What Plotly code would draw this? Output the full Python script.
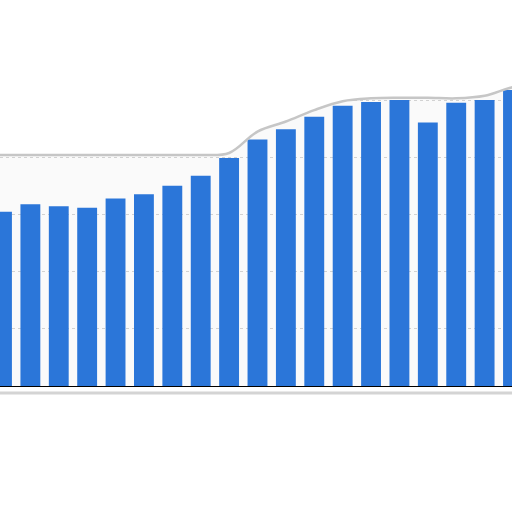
import plotly.graph_objects as go

# category labels (not visible in the crop, kept for the axis)
years = [str(y) for y in range(2004, 2023)]
values = [60.9, 63.6, 62.9, 62.3, 65.6, 67.1, 70.0, 73.5, 79.7, 86.2,
          89.8, 94.2, 98.0, 99.3, 100.0, 92.2, 99.1, 100.0, 103.5]
# torn-paper edge of the cropped screenshot, one point per category
edge = [80.8, 80.8, 80.8, 80.8, 80.8, 80.8, 80.8, 80.8, 81.5, 89.0,
        92.5, 96.5, 99.6, 100.6, 100.8, 100.8, 100.6, 101.5, 104.5]

BAR_COLOR = "#2b76d9"

pos = list(range(len(years)))
# edge runs a little past the first and last bar so the white paper covers the whole width
edge_x = [pos[0] - 0.5] + pos + [pos[-1] + 0.5]
edge_y = [edge[0]] + edge + [edge[-1]]
top_y = [140] * len(edge_x)

fig = go.Figure()
fig.add_trace(go.Bar(x=pos, y=values, marker_color=BAR_COLOR,
                     marker_line_width=0, hoverinfo="skip"))
# white paper above the torn edge hides the gridlines there
fig.add_trace(go.Scatter(x=edge_x, y=top_y, mode="lines", line=dict(width=0),
                         hoverinfo="skip"))
fig.add_trace(go.Scatter(x=edge_x, y=edge_y, mode="lines", fill="tonexty",
                         fillcolor="white",
                         line=dict(color="#c6c6c6", width=2.5, shape="spline"),
                         hoverinfo="skip"))

# shadow under the baseline
fig.add_shape(type="line", xref="paper", yref="paper", x0=0, x1=1, y0=-0.018, y1=-0.018,
              line=dict(color="#d4d4d4", width=3))

fig.update_layout(
    width=512, height=512,
    margin=dict(l=0, r=0, t=0, b=126),
    paper_bgcolor="white", plot_bgcolor="#fafafa",
    showlegend=False, bargap=0.3,
)
fig.update_xaxes(range=[-0.07, 17.965], tickvals=pos, ticktext=years,
                 showticklabels=False, ticks="",
                 showgrid=False, showline=True, linecolor="black", linewidth=1.2)
fig.update_yaxes(range=[0, 135], dtick=20, showticklabels=False, ticks="",
                 showgrid=True, gridcolor="#d2d2d2", griddash="dot", gridwidth=1,
                 zeroline=False)

fig.write_html("out.html", config={"displayModeBar": False},
               post_script="document.body.style.margin='0';")
